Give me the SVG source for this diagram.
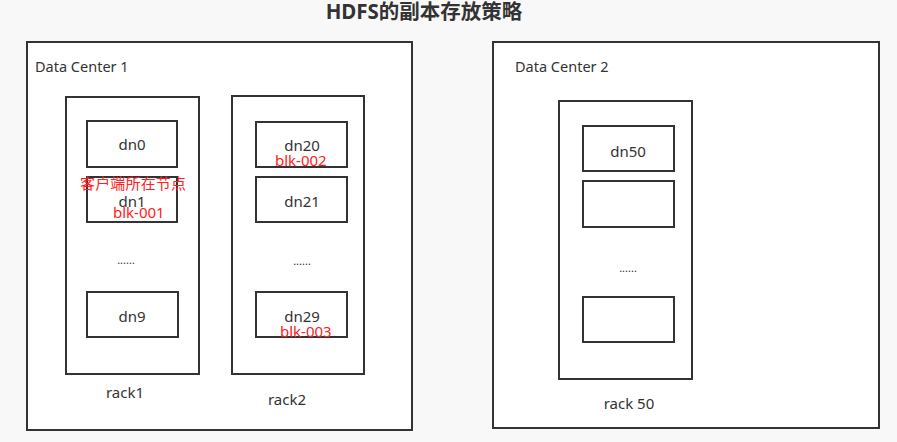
<svg xmlns="http://www.w3.org/2000/svg" width="897" height="442" viewBox="0 0 897 442">
<style>
.box{fill:#fff;stroke:#333;stroke-width:2}
.t{font-family:"Noto Sans","Noto Sans CJK SC",sans-serif;font-size:15px;fill:#333;text-anchor:middle}
.l{font-family:"Noto Sans","Noto Sans CJK SC",sans-serif;font-size:14.5px;fill:#333}
.r{font-family:"Noto Sans","Noto Sans CJK SC",sans-serif;font-size:15px;fill:#ff2020}
.d{font-family:"Noto Sans",sans-serif;font-size:11px;fill:#333;text-anchor:middle}
</style>
<rect x="0" y="0" width="897" height="442" fill="#f8f8f8"/>
<text x="424" y="19" font-family="Noto Sans, Noto Sans CJK SC, sans-serif" font-size="20.5" font-weight="bold" fill="#333" text-anchor="middle">HDFS的副本存放策略</text>
<g id="dc1">
<rect class="box" x="27" y="42" width="385" height="388"/>
<text class="l" x="35" y="72">Data Center 1</text>
</g>
<g id="rack1">
<rect class="box" x="66" y="97" width="133" height="277"/>
<text class="t" x="125" y="398">rack1</text>
<text class="d" x="126" y="264">......</text>
</g>
<g id="dn0"><rect class="box" x="87" y="121" width="90" height="46"/><text class="t" x="132" y="150">dn0</text></g>
<g id="dn1"><rect class="box" x="87" y="177" width="90" height="45"/><text class="t" x="132" y="207">dn1</text></g>
<g id="dn9"><rect class="box" x="87" y="292" width="91" height="45"/><text class="t" x="132" y="322">dn9</text></g>
<g id="rack2">
<rect class="box" x="232" y="96" width="132" height="278"/>
<text class="t" x="287" y="405">rack2</text>
<text class="d" x="302" y="265">......</text>
</g>
<g id="dn20"><rect class="box" x="256" y="122" width="91" height="45"/><text class="t" x="302" y="151">dn20</text></g>
<g id="dn21"><rect class="box" x="256" y="177" width="91" height="45"/><text class="t" x="302" y="207">dn21</text></g>
<g id="dn29"><rect class="box" x="256" y="292" width="91" height="45"/><text class="t" x="302" y="322">dn29</text></g>
<g id="dc2">
<rect class="box" x="493" y="42" width="386" height="386"/>
<text class="l" x="515" y="72">Data Center 2</text>
</g>
<g id="rack50">
<rect class="box" x="559" y="101" width="133" height="278"/>
<text class="t" x="629" y="409">rack 50</text>
<text class="d" x="628" y="272">......</text>
</g>
<g id="dn50"><rect class="box" x="583" y="126" width="91" height="45"/><text class="t" x="628" y="157">dn50</text></g>
<g id="dn51"><rect class="box" x="583" y="181" width="91" height="46"/></g>
<g id="dn5x"><rect class="box" x="583" y="297" width="91" height="45"/></g>
<g id="labels">
<text class="r" x="80" y="189" textLength="106">客户端所在节点</text>
<text class="r" x="113" y="218">blk-001</text>
<text class="r" x="275" y="166">blk-002</text>
<text class="r" x="280" y="337">blk-003</text>
</g>
<g id="connectors"/>
</svg>
